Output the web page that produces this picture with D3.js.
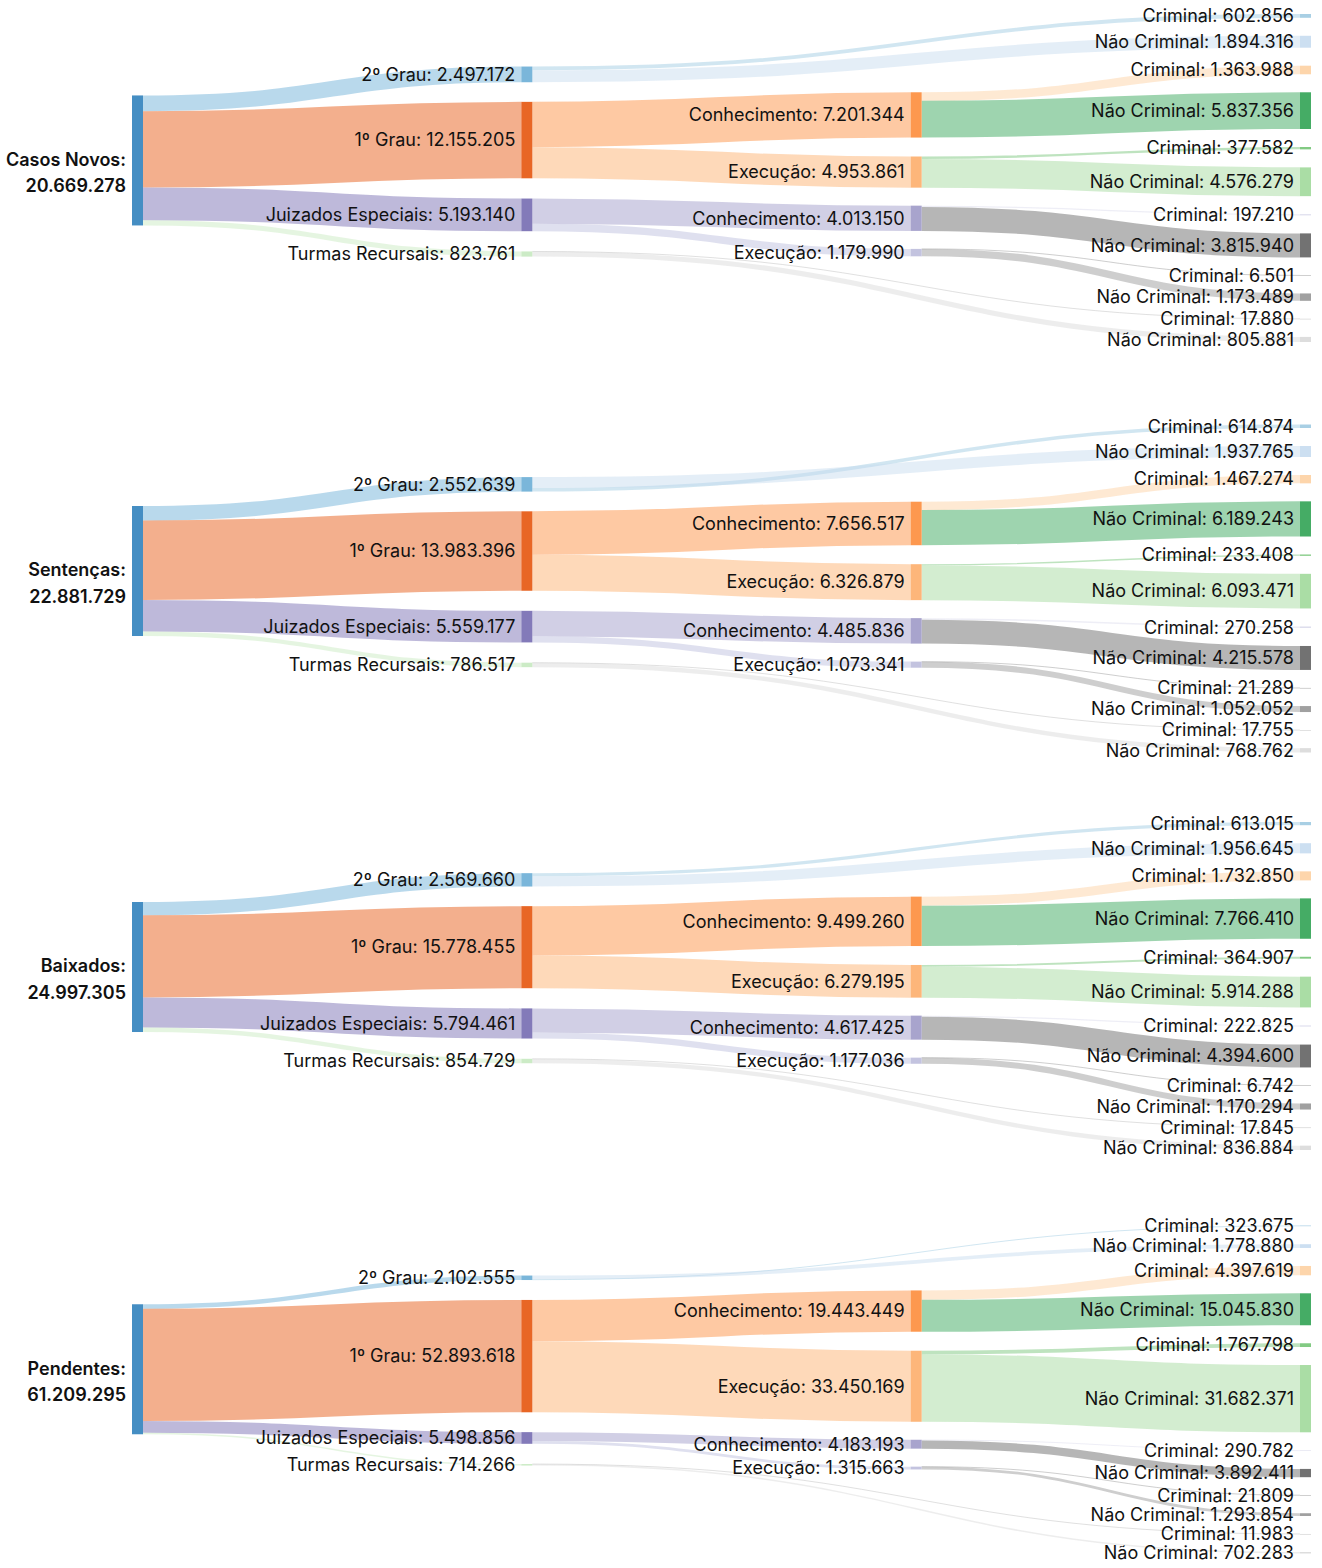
<!DOCTYPE html>
<html><head><meta charset="utf-8">
<script src="https://cdn.jsdelivr.net/npm/d3@7"></script>
<style>
body{margin:0;background:#fff;}
svg{display:block;font-family:Inter,"Noto Sans",sans-serif;}
</style></head><body>
<svg id="chart" width="1322" height="1568"></svg>
<script>
// ---------- DATA ----------
const panelNames = ["Casos Novos", "Sentenças", "Baixados", "Pendentes"];
const grau2Criminal        = [602856, 614874, 613015, 323675];
const grau2NaoCriminal     = [1894316, 1937765, 1956645, 1778880];
const grau1ConhCriminal    = [1363988, 1467274, 1732850, 4397619];
const grau1ConhNaoCriminal = [5837356, 6189243, 7766410, 15045830];
const grau1ExecCriminal    = [377582, 233408, 364907, 1767798];
const grau1ExecNaoCriminal = [4576279, 6093471, 5914288, 31682371];
const jeConhCriminal       = [197210, 270258, 222825, 290782];
const jeConhNaoCriminal    = [3815940, 4215578, 4394600, 3892411];
const jeExecCriminal       = [6501, 21289, 6742, 21809];
const jeExecNaoCriminal    = [1173489, 1052052, 1170294, 1293854];
const trCriminal           = [17880, 17755, 17845, 11983];
const trNaoCriminal        = [805881, 768762, 836884, 702283];

const nodeLabels = {
  g2: "2º Grau", g1: "1º Grau", je: "Juizados Especiais", tr: "Turmas Recursais",
  c1: "Conhecimento", e1: "Execução", cj: "Conhecimento", ej: "Execução",
  g2c: "Criminal", g2nc: "Não Criminal", c1c: "Criminal", c1nc: "Não Criminal",
  e1c: "Criminal", e1nc: "Não Criminal", cjc: "Criminal", cjnc: "Não Criminal",
  ejc: "Criminal", ejnc: "Não Criminal", trc: "Criminal", trnc: "Não Criminal"
};
const nodeOrder = ["root","g2","g1","je","tr","c1","e1","cj","ej",
  "g2c","g2nc","c1c","c1nc","e1c","e1nc","cjc","cjnc","ejc","ejnc","trc","trnc"];
const nodeColors = {
  root:"#3182bd", g2:"#6baed6", g2c:"#9ecae1", g2nc:"#c6dbef",
  g1:"#e6550d", c1:"#fd8d3c", e1:"#fdae6b", c1c:"#fdd0a2", c1nc:"#31a354",
  e1c:"#74c476", e1nc:"#a1d99b", tr:"#c7e9c0", je:"#756bb1", cj:"#9e9ac8",
  ej:"#bcbddc", cjc:"#dadaeb", cjnc:"#636363", ejc:"#969696", ejnc:"#969696",
  trc:"#bdbdbd", trnc:"#d9d9d9"
};

// ---------- LAYOUT CONSTANTS ----------
const X0 = 132, X1 = 1311, NODE_W = 11, NODE_PAD = 18, ITERATIONS = 6;
const panelTop = [14, 424.5, 822, 1225.5], PANEL_H = 328;
const FONT = 18;

const fmt = d3.formatLocale({decimal: ",", thousands: ".", grouping: [3], currency: ["R$", ""]}).format(",d");

function buildLinks(p) {
  const leaf = [
    ["g2","g2c",grau2Criminal[p]],["g2","g2nc",grau2NaoCriminal[p]],
    ["c1","c1c",grau1ConhCriminal[p]],["c1","c1nc",grau1ConhNaoCriminal[p]],
    ["e1","e1c",grau1ExecCriminal[p]],["e1","e1nc",grau1ExecNaoCriminal[p]],
    ["cj","cjc",jeConhCriminal[p]],["cj","cjnc",jeConhNaoCriminal[p]],
    ["ej","ejc",jeExecCriminal[p]],["ej","ejnc",jeExecNaoCriminal[p]],
    ["tr","trc",trCriminal[p]],["tr","trnc",trNaoCriminal[p]]
  ];
  const s = k => d3.sum(leaf.filter(l => l[0] === k), l => l[2]);
  const c1 = s("c1"), e1 = s("e1"), cj = s("cj"), ej = s("ej");
  const mid = [
    ["root","g2",s("g2")],["root","g1",c1+e1],["root","je",cj+ej],["root","tr",s("tr")],
    ["g1","c1",c1],["g1","e1",e1],["je","cj",cj],["je","ej",ej]
  ];
  return mid.concat(leaf).map(([source,target,value]) => ({source,target,value}));
}

// ---------- SANKEY LAYOUT (d3-sankey style relaxation, input node order kept) ----------
function sankey(nodes, links, x0, y0, x1, y1, iterations) {
  const dx = NODE_W, py = NODE_PAD;
  const byId = new Map(nodes.map((n,i) => (n.index=i, n.sourceLinks=[], n.targetLinks=[], [n.id,n])));
  links.forEach((l,i) => {
    l.index = i; l.source = byId.get(l.source); l.target = byId.get(l.target);
    l.source.sourceLinks.push(l); l.target.targetLinks.push(l);
  });
  for (const n of nodes) n.value = Math.max(d3.sum(n.sourceLinks,l=>l.value), d3.sum(n.targetLinks,l=>l.value));
  let current = new Set(nodes), next = new Set, x = 0;
  while (current.size) {
    for (const n of current) { n.depth = x; for (const {target} of n.sourceLinks) next.add(target); }
    x++; current = next; next = new Set;
  }
  const nCols = d3.max(nodes, d => d.depth) + 1;
  const kx = (x1 - x0 - dx) / (nCols - 1);
  const columns = Array.from({length:nCols}, () => []);
  for (const n of nodes) {
    const i = n.sourceLinks.length ? n.depth : nCols - 1;   // justify
    n.layer = i; n.x0 = x0 + i*kx; n.x1 = n.x0 + dx; columns[i].push(n);
  }
  const asc = (a,b) => a.y0 - b.y0;
  const ascS = (a,b) => asc(a.source,b.source) || a.index - b.index;
  const ascT = (a,b) => asc(a.target,b.target) || a.index - b.index;
  function reorderLinks(ns){ for (const n of ns){ n.sourceLinks.sort(ascT); n.targetLinks.sort(ascS);} }
  function reorderNodeLinks(n){
    for (const {source} of n.targetLinks) source.sourceLinks.sort(ascT);
    for (const {target} of n.sourceLinks) target.targetLinks.sort(ascS);
  }
  const ky = d3.min(columns, c => (y1 - y0 - (c.length-1)*py) / d3.sum(c, d => d.value));
  for (const c of columns) {
    let y = y0;
    for (const n of c) { n.y0 = y; n.y1 = y + n.value*ky; y = n.y1 + py; for (const l of n.sourceLinks) l.width = l.value*ky; }
    y = (y1 - y + py) / (c.length + 1);
    c.forEach((n,i) => { n.y0 += y*(i+1); n.y1 += y*(i+1); });
    reorderLinks(c);
  }
  function targetTop(source, target) {
    let y = source.y0 - (source.sourceLinks.length - 1) * py / 2;
    for (const {target: node, width} of source.sourceLinks) { if (node === target) break; y += width + py; }
    for (const {source: node, width} of target.targetLinks) { if (node === source) break; y -= width; }
    return y;
  }
  function sourceTop(source, target) {
    let y = target.y0 - (target.targetLinks.length - 1) * py / 2;
    for (const {source: node, width} of target.targetLinks) { if (node === source) break; y += width + py; }
    for (const {target: node, width} of source.sourceLinks) { if (node === target) break; y -= width; }
    return y;
  }
  function resolve(ns){
    let y = y0;
    for (const n of ns){ const d = y - n.y0; if (d > 1e-6) n.y0 += d, n.y1 += d; y = n.y1 + py; }
    y = y1;
    for (let i = ns.length - 1; i >= 0; --i){ const n = ns[i]; const d = n.y1 - y; if (d > 1e-6) n.y0 -= d, n.y1 -= d; y = n.y0 - py; }
  }
  function relaxLR(alpha){
    for (let i = 1; i < columns.length; ++i){
      const col = columns[i];
      for (const t of col){
        let y = 0, w = 0;
        for (const {source, value} of t.targetLinks){ const v = value*(t.layer - source.layer); y += targetTop(source, t)*v; w += v; }
        if (!(w > 0)) continue;
        const d = (y/w - t.y0)*alpha; t.y0 += d; t.y1 += d; reorderNodeLinks(t);
      }
      resolve(col);
    }
  }
  function relaxRL(alpha){
    for (let i = columns.length - 2; i >= 0; --i){
      const col = columns[i];
      for (const s of col){
        let y = 0, w = 0;
        for (const {target, value} of s.sourceLinks){ const v = value*(target.layer - s.layer); y += sourceTop(s, target)*v; w += v; }
        if (!(w > 0)) continue;
        const d = (y/w - s.y0)*alpha; s.y0 += d; s.y1 += d; reorderNodeLinks(s);
      }
      resolve(col);
    }
  }
  for (let i = 0; i < iterations; ++i){
    const alpha = Math.pow(0.99, i);
    relaxRL(alpha); relaxLR(alpha);
  }
  for (const n of nodes){
    let a = n.y0, b = n.y0;
    for (const l of n.sourceLinks){ l.y0 = a + l.width/2; a += l.width; }
    for (const l of n.targetLinks){ l.y1 = b + l.width/2; b += l.width; }
  }
  return {nodes, links};
}

// ---------- DRAW ----------
const svg = d3.select("#chart");
const linkPath = d3.linkHorizontal().source(d => [d.source.x1, d.y0]).target(d => [d.target.x0, d.y1]);

panelNames.forEach((name, p) => {
  const nodes = nodeOrder.map(id => ({id}));
  const links = buildLinks(p);
  sankey(nodes, links, X0, panelTop[p], X1, panelTop[p] + PANEL_H, ITERATIONS);
  const g = svg.append("g");
  g.append("g").attr("fill","none")
    .selectAll("path").data(links).join("path")
    .attr("d", linkPath)
    .attr("stroke", d => nodeColors[d.target.id])
    .attr("stroke-opacity", 0.47)
    .attr("stroke-width", d => Math.max(1, d.width));
  g.append("g").selectAll("rect").data(nodes).join("rect")
    .attr("x", d => d.x0).attr("y", d => d.y0)
    .attr("width", d => d.x1 - d.x0).attr("height", d => Math.max(0.5, d.y1 - d.y0))
    .attr("fill", d => nodeColors[d.id]).attr("fill-opacity", 0.9);
  const lab = g.append("g").attr("font-size", FONT).attr("fill", "#111").attr("text-anchor","end");
  lab.selectAll("text.n").data(nodes.filter(d => d.id !== "root")).join("text")
    .attr("class","n")
    .attr("x", d => d.x0 - 6).attr("y", d => (d.y0 + d.y1)/2).attr("dy","0.35em")
    .text(d => `${nodeLabels[d.id]}: ${fmt(d.value)}`);
  const root = nodes.find(n => n.id === "root");
  const rt = lab.append("text").attr("font-weight", 600)
    .attr("x", root.x0 - 6).attr("y", (root.y0 + root.y1)/2);
  rt.append("tspan").attr("x", root.x0 - 6).attr("dy","0.3em").text(`${name}:`);
  rt.append("tspan").attr("x", root.x0 - 6).attr("dy","1.45em").text(fmt(root.value));
});
</script>
</body></html>
